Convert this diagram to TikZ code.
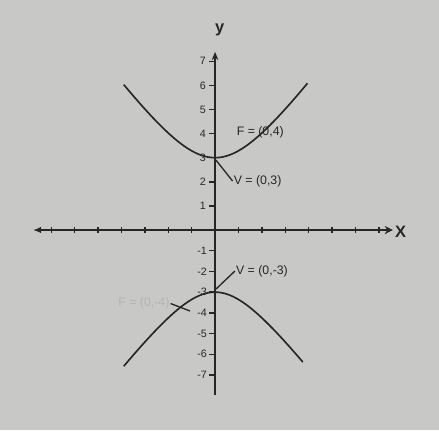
\documentclass[tikz,border=0pt]{standalone}
\usepackage{fontspec}
\setmainfont{Liberation Sans}
\usetikzlibrary{arrows.meta}

\definecolor{photo}{RGB}{200,200,198}
\definecolor{ink}{RGB}{38,38,38}

\tikzset{
	axis/.style={ink,line width=0.9pt},
	branch/.style={ink,line width=1pt,smooth,samples=60},
	leader/.style={ink,line width=0.8pt},
	lbl/.style={font=\fontsize{7.5}{8}\selectfont,text=ink,inner sep=0.5pt},
	ticklbl/.style={font=\fontsize{6.5}{7}\selectfont,text=ink,inner sep=0.5pt},
	axlbl/.style={font=\fontsize{10}{11}\selectfont\bfseries,text=ink,inner sep=0.5pt}
}

\begin{document}
\begin{tikzpicture}[x=0.5cm,y=0.5cm]
	
	\fill[photo](-9.19,-8.55) rectangle (9.57,9.83);
	\useasboundingbox (-9.19,-8.55) rectangle (9.57,9.83);
	
	% x axis
	\coordinate (xl) at (-7.78,0);
	\coordinate (xr) at (7.6,0);
	\draw[axis,{Latex[length=5pt,width=4pt]}-{Stealth[length=5pt,width=5pt,open]}](xl)--(xr);
	\node[axlbl,anchor=west] (xlab) at (7.65,-0.08) {X};
	\foreach \i in {-7,...,-1,1,2,...,7}
	\draw[axis](\i,-0.14)--(\i,0.14);
	
	% upper half
	\begin{scope}[yscale=1.03]
		\coordinate (o) at (0,0);
		\coordinate (ytop) at (0,7.39);
		\draw[axis,-{Stealth[length=5pt,width=4pt]}](o)--(ytop);
		\node[axlbl] (ylab) at (0.2,8.3) {y};
		\foreach \i in {1,...,7}{
			\draw[axis](-0.25,\i)--(0,\i);
			\node[ticklbl,anchor=east] at (-0.35,\i) {\i};
		}
		\draw[branch] plot[domain=-3.9:3.95] (\x,{3*sqrt(1+\x*\x/5)});
		
		\coordinate (v1) at (0.04,2.9);
		\node[lbl,anchor=west] (v1lab) at (0.75,2.03) {V = (0,3)};
		\draw[leader](v1)--(v1lab.west);
		\node[lbl,anchor=west] (f1lab) at (0.88,4.07) {F = (0,4)};
	\end{scope}
	
	% lower half
	\begin{scope}[yscale=0.885]
		\coordinate (ybot) at (0,-7.97);
		\draw[axis](o)--(ybot);
		\foreach \i in {1,...,7}{
			\draw[axis](-0.25,-\i)--(0,-\i);
			\node[ticklbl,anchor=east] at (-0.3,-\i) {-\i};
		}
		\draw[branch] plot[domain=-3.9:3.75] (\x,{-3*sqrt(1+\x*\x/4)});
		
		\coordinate (v2) at (0.04,-2.85);
		\node[lbl,anchor=west] (v2lab) at (0.85,-1.98) {V = (0,-3)};
		\draw[leader](v2)--(v2lab.west);
		
		\coordinate (f2) at (-1.07,-3.91);
		\node[lbl,text=ink!35,anchor=east] (f2lab) at (-1.9,-3.55) {F = (0,-4)};
		\draw[leader](f2)--(f2lab.east);
	\end{scope}
	
\end{tikzpicture}
\end{document}
